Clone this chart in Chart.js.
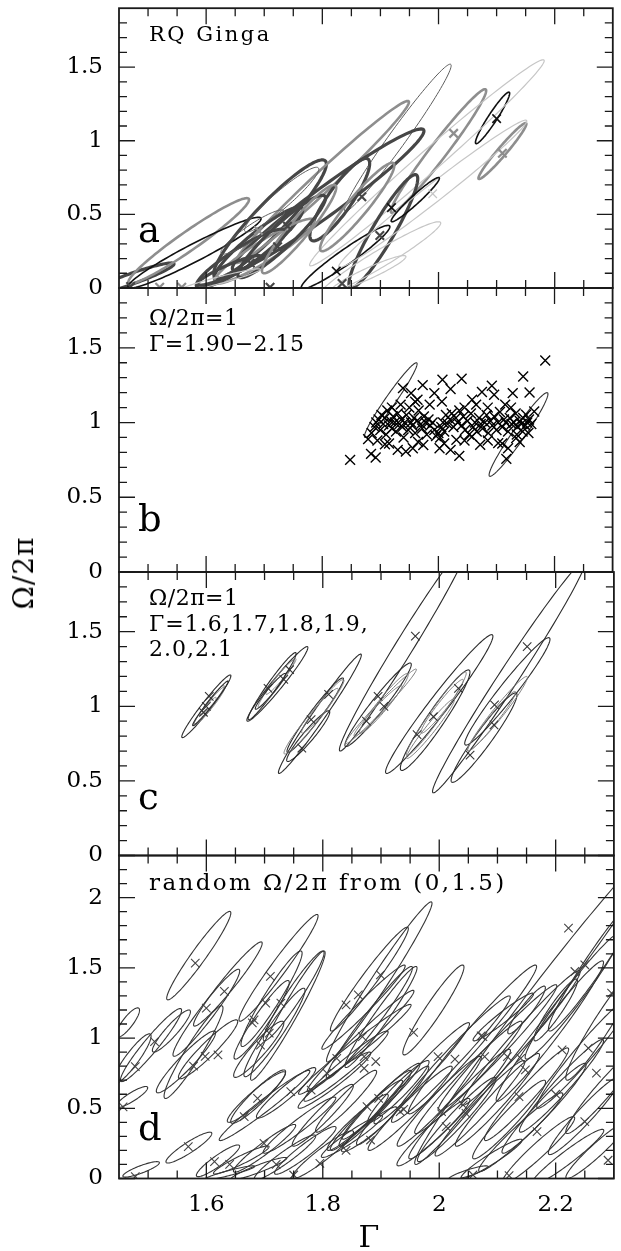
<!DOCTYPE html>
<html>
<head>
<meta charset="utf-8">
<script src="https://cdn.jsdelivr.net/npm/chart.js@4.4.0/dist/chart.umd.min.js"></script>
<style>
  body { margin: 0; background: #fff; width: 621px; height: 1251px; position: relative; overflow: hidden; }
  canvas { position: absolute; left: 0; top: 0; }
  .t { position: absolute; font-family: 'DejaVu Serif', serif; line-height: 1; white-space: nowrap; color: #000; z-index: 5; }
</style>
</head>
<body>
<canvas id="pa" width="621" height="1251"></canvas>
<canvas id="pb" width="621" height="1251"></canvas>
<canvas id="pc" width="621" height="1251"></canvas>
<canvas id="pd" width="621" height="1251"></canvas>

<div class="t" style="left:149px;top:24px;font-size:21px;letter-spacing:2.5px">RQ Ginga</div>
<div class="t" style="left:138px;top:211px;font-size:37px">a</div>
<div class="t" style="left:149px;top:307px;font-size:22px;letter-spacing:0.5px">Ω/2π=1</div>
<div class="t" style="left:149px;top:333px;font-size:22px;letter-spacing:0.5px">Γ=1.90−2.15</div>
<div class="t" style="left:138px;top:500px;font-size:37px">b</div>
<div class="t" style="left:149px;top:587px;font-size:22px;letter-spacing:0.5px">Ω/2π=1</div>
<div class="t" style="left:149px;top:613px;font-size:22px;letter-spacing:1px">Γ=1.6,1.7,1.8,1.9,</div>
<div class="t" style="left:149px;top:638px;font-size:22px;letter-spacing:1px">2.0,2.1</div>
<div class="t" style="left:138px;top:778px;font-size:37px">c</div>
<div class="t" style="left:149px;top:871px;font-size:23px;letter-spacing:2.4px">random Ω/2π from (0,1.5)</div>
<div class="t" style="left:138px;top:1109px;font-size:37px">d</div>
<div class="t" style="left:24px;top:573px;font-size:28px;letter-spacing:1px;transform:translate(-50%,-50%) rotate(-90deg)">Ω/2π</div>
<div class="t" style="left:369px;top:1237px;font-size:30px;transform:translate(-50%,-50%)">Γ</div>

<script>
// axes
const xMajor = [1.6, 1.8, 2.0, 2.2];
const xMinor = [1.5, 1.55, 1.65, 1.7, 1.75, 1.85, 1.9, 1.95, 2.05, 2.1, 2.15, 2.25];
const yMajor = [0, 0.5, 1, 1.5];
const yMinor = [0.1, 0.2, 0.3, 0.4, 0.6, 0.7, 0.8, 0.9, 1.1, 1.2, 1.3, 1.4, 1.6, 1.7, 1.8];
const yMajorD = [0, 0.5, 1, 1.5, 2];
const yMinorD = [0.1, 0.2, 0.3, 0.4, 0.6, 0.7, 0.8, 0.9, 1.1, 1.2, 1.3, 1.4, 1.6, 1.7, 1.8, 1.9, 2.1, 2.2];

// contours: [centre Γ, centre Ω, tip offset Γ, tip offset Ω, half width in Γ]
// panel a (RQ Ginga), one source group per contour
const aEllipses = [
  [1.47, 0.06, 0.07, 0.11, 0.026], [1.57, 0.32, 0.10, 0.29, 0.028], [1.58, 0.24, 0.11, 0.24, 0.032],
  [1.71, 0.47, 0.09, 0.40, 0.036], [1.80, 0.72, 0.147, 0.55, 0.025], [1.93, 1.02, 0.09, 0.5, 0.018],
  [2.0, 0.93, 0.08, 0.42, 0.018], [2.093, 1.155, 0.028, 0.175, 0.009], [2.11, 0.93, 0.04, 0.19, 0.01],
  [1.98, 0.85, 0.2, 0.7, 0.028], [1.81, 0.6, 0.16, 0.48, 0.04], [1.83, 0.6, 0.045, 0.28, 0.025],
  [1.84, 0.21, 0.073, 0.215, 0.022], [1.905, 0.385, 0.055, 0.385, 0.022], [1.99, 0.64, 0.16, 0.5, 0.025],
  [1.69, 0.3, 0.07, 0.25, 0.03], [1.70, 0.25, 0.08, 0.22, 0.032], [1.66, 0.2, 0.07, 0.2, 0.032],
  [1.73, 0.35, 0.07, 0.28, 0.028], [1.64, 0.12, 0.05, 0.1, 0.022], [1.76, 0.4, 0.06, 0.3, 0.022],
  [1.68, 0.38, 0.05, 0.15, 0.022], [1.73, 0.6, 0.06, 0.22, 0.022], [1.62, 0.05, 0.07, 0.08, 0.022],
  [1.9, 0.2, 0.1, 0.25, 0.028], [1.86, 0.55, 0.06, 0.3, 0.022], [1.96, 0.6, 0.04, 0.15, 0.011],
  [1.88, 0.1, 0.06, 0.12, 0.022]
];
const aEllipseGroup = [1, 2, 0, 1, 2, 4, 2, 0, 2, 3, 1, 1, 0, 1, 3, 1, 2, 1, 1, 1, 2, 4, 4, 3, 3, 2, 0, 3];
const aCrosses = [
  [1.47, 0.01], [1.52, 0.005], [1.558, 0.005], [1.71, 0.005], [1.834, 0.03], [1.824, 0.115],
  [1.69, 0.39], [1.723, 0.28], [1.74, 0.42], [1.868, 0.62], [1.899, 0.356], [2.026, 1.05],
  [2.10, 1.15], [2.11, 0.915], [1.99, 0.64], [1.919, 0.546], [1.676, 0.17]
];
const aCrossGroup = [1, 2, 2, 1, 1, 0, 2, 1, 1, 1, 1, 2, 0, 2, 3, 0, 1];

// panel b
const bEllipses = [[1.918, 1.15, 0.044, 0.25, 0.011], [2.138, 0.92, 0.049, 0.28, 0.013]];
const bCrosses = [
  [1.848, 0.75], [1.884, 0.79], [1.892, 0.766], [1.879, 0.889], [1.908, 0.855], [1.930, 0.817], [1.944, 0.806],
  [1.956, 0.828], [1.974, 0.85], [2.002, 0.828], [2.021, 0.817], [2.036, 0.777], [2.031, 0.884], [1.973, 1.25],
  [2.007, 1.286], [2.021, 1.224], [2.04, 1.293], [1.939, 1.23], [1.953, 1.197], [1.964, 1.152], [1.993, 1.197],
  [2.006, 1.14], [2.058, 1.152], [2.075, 1.204], [2.092, 1.246], [2.096, 1.186], [2.128, 1.197], [2.146, 1.308],
  [2.157, 1.201], [2.184, 1.415], [2.165, 1.074], [2.151, 1.052], [2.134, 0.896], [2.12, 0.828], [2.117, 0.757],
  [2.103, 0.862], [2.072, 0.851], [2.058, 0.906],
  [1.885, 0.93], [1.89, 0.97], [1.893, 1.0], [1.897, 1.02], [1.9, 0.95], [1.902, 1.05], [1.905, 0.99], [1.908, 1.03],
  [1.91, 0.92], [1.912, 1.08], [1.915, 0.98], [1.918, 1.01], [1.92, 0.96], [1.922, 1.04], [1.925, 1.0], [1.927, 0.94],
  [1.93, 1.06], [1.933, 0.99], [1.936, 1.02], [1.938, 0.97],
  [1.942, 1.0], [1.945, 1.05], [1.948, 0.95], [1.95, 1.1], [1.953, 1.0], [1.955, 0.98], [1.958, 1.03], [1.96, 0.93],
  [1.963, 1.01], [1.966, 1.08], [1.97, 0.99], [1.972, 0.96], [1.975, 1.04], [1.978, 1.0], [1.98, 0.92], [1.983, 1.02],
  [1.986, 0.98], [1.99, 1.0], [1.993, 0.95], [1.996, 0.91],
  [2.0, 0.93], [2.003, 0.9], [2.005, 0.97], [2.008, 1.0], [2.01, 0.94], [2.013, 1.05], [2.016, 0.99], [2.02, 1.02],
  [2.023, 1.06], [2.026, 0.97], [2.03, 1.03], [2.033, 1.0], [2.036, 1.08], [2.04, 0.98], [2.043, 1.04], [2.046, 0.95],
  [2.05, 1.01], [2.053, 0.92], [2.056, 1.06], [2.06, 0.97],
  [2.063, 1.0], [2.066, 0.94], [2.07, 1.03], [2.073, 0.99], [2.076, 0.96], [2.08, 1.0], [2.083, 1.05], [2.086, 0.93],
  [2.09, 1.01], [2.093, 0.98], [2.096, 1.04], [2.1, 0.95], [2.103, 1.0], [2.106, 1.07], [2.11, 0.97], [2.113, 1.02],
  [2.116, 1.0], [2.12, 0.94], [2.123, 1.03], [2.126, 0.99],
  [2.13, 1.0], [2.133, 1.06], [2.136, 0.97], [2.14, 1.01], [2.143, 0.99], [2.146, 1.03], [2.15, 0.98], [2.153, 1.0],
  [2.156, 1.02], [2.16, 0.99], [2.145, 0.94], [2.135, 0.92], [2.125, 1.1], [2.115, 1.12], [2.085, 1.1], [2.065, 1.12],
  [2.045, 1.1], [1.985, 1.12], [1.96, 1.14], [1.935, 1.12], [1.92, 1.1],
  [1.895, 0.88], [1.915, 0.86], [1.94, 0.9], [1.965, 0.87], [2.01, 0.86], [2.045, 0.88], [2.085, 0.88], [2.11, 0.86],
  [2.14, 0.87], [2.155, 0.93]
];

// panel c (simulated, Γ = 1.6 ... 2.1)
const cEllipses = [
  [1.60, 1.0, 0.041, 0.21, 0.01], [1.605, 1.0, 0.026, 0.13, 0.007], [1.61, 1.04, 0.02, 0.1, 0.006],
  [1.598, 0.97, 0.018, 0.09, 0.006], [1.607, 1.02, 0.03, 0.15, 0.006],
  [1.722, 1.15, 0.051, 0.25, 0.012], [1.713, 1.135, 0.04, 0.225, 0.01], [1.72, 1.15, 0.03, 0.16, 0.008],
  [1.728, 1.2, 0.025, 0.12, 0.007], [1.71, 1.1, 0.025, 0.12, 0.007],
  [1.795, 0.95, 0.07, 0.4, 0.013], [1.787, 0.94, 0.047, 0.25, 0.012], [1.775, 0.8, 0.035, 0.17, 0.012],
  [1.80, 1.0, 0.035, 0.18, 0.01], [1.78, 0.9, 0.045, 0.22, 0.012],
  [1.94, 1.4, 0.11, 0.7, 0.018], [1.895, 1.01, 0.055, 0.28, 0.015], [1.905, 1.02, 0.04, 0.2, 0.012],
  [1.90, 1.0, 0.06, 0.25, 0.01], [1.895, 0.97, 0.04, 0.17, 0.01],
  [2.0, 1.015, 0.09, 0.465, 0.02], [1.993, 0.907, 0.057, 0.337, 0.018], [1.995, 0.95, 0.05, 0.28, 0.012],
  [1.985, 0.85, 0.04, 0.2, 0.01], [2.005, 1.0, 0.035, 0.18, 0.01],
  [2.12, 1.2, 0.13, 0.78, 0.02], [2.117, 1.1, 0.071, 0.36, 0.018], [2.077, 0.79, 0.054, 0.3, 0.017],
  [2.1, 0.95, 0.05, 0.25, 0.012], [2.09, 0.9, 0.04, 0.2, 0.01]
];
const cEllipseShade = [0, 1, 1, 1, 0, 0, 0, 1, 1, 0, 0, 0, 0, 1, 1, 0, 0, 1, 1, 1, 0, 0, 1, 1, 1, 0, 0, 0, 1, 1];
const cCrosses = [
  [1.605, 1.066], [1.60, 1.0], [1.595, 0.96], [1.706, 1.12], [1.733, 1.18], [1.743, 1.245], [1.78, 0.91],
  [1.764, 0.72], [1.81, 1.08], [1.959, 1.47], [1.895, 1.066], [1.905, 1.0], [1.875, 0.90], [2.033, 1.12],
  [1.99, 0.93], [1.962, 0.81], [2.151, 1.40], [2.095, 1.01], [2.094, 0.875], [2.053, 0.673]
];

// panel d (random Ω/2π)
const dEllipses = [
  [1.587, 1.587, 0.053, 0.315, 0.015], [1.637, 1.385, 0.057, 0.30, 0.015], [1.600, 1.18, 0.055, 0.31, 0.016],
  [1.578, 0.90, 0.048, 0.33, 0.016], [1.603, 0.92, 0.048, 0.21, 0.017], [1.565, 0.83, 0.048, 0.22, 0.017],
  [1.465, 1.11, 0.017, 0.105, 0.011], [1.505, 0.95, 0.05, 0.26, 0.016], [1.472, 0.58, 0.024, 0.075, 0.013],
  [1.472, 0.85, 0.03, 0.18, 0.014], [1.54, 1.05, 0.03, 0.15, 0.013],
  [1.724, 1.50, 0.066, 0.38, 0.016], [1.74, 1.16, 0.062, 0.46, 0.016], [1.712, 1.28, 0.05, 0.34, 0.016],
  [1.717, 1.04, 0.05, 0.315, 0.016], [1.695, 1.13, 0.045, 0.28, 0.015], [1.75, 1.30, 0.05, 0.32, 0.015],
  [1.69, 0.92, 0.04, 0.2, 0.016],
  [1.897, 1.40, 0.089, 0.57, 0.017], [1.88, 1.42, 0.065, 0.37, 0.016], [1.88, 1.11, 0.072, 0.40, 0.017],
  [1.865, 0.98, 0.09, 0.36, 0.017], [1.855, 0.92, 0.095, 0.32, 0.018], [1.84, 0.80, 0.07, 0.25, 0.018],
  [1.87, 1.22, 0.07, 0.30, 0.015], [1.90, 1.15, 0.06, 0.36, 0.015], [1.99, 1.2, 0.05, 0.32, 0.016],
  [1.82, 0.7, 0.06, 0.2, 0.017],
  [1.689, 0.583, 0.044, 0.19, 0.017], [1.70, 0.52, 0.076, 0.25, 0.017], [1.737, 0.61, 0.048, 0.18, 0.017],
  [1.686, 0.58, 0.047, 0.18, 0.017], [1.57, 0.22, 0.036, 0.11, 0.016], [1.488, 0.065, 0.027, 0.055, 0.016],
  [1.62, 0.126, 0.034, 0.113, 0.015], [1.66, 0.132, 0.045, 0.1, 0.016], [1.70, 0.215, 0.051, 0.17, 0.016],
  [1.735, 0.15, 0.05, 0.16, 0.017], [1.69, 0.07, 0.045, 0.08, 0.017], [1.77, 0.2, 0.05, 0.17, 0.017],
  [1.80, 0.17, 0.05, 0.17, 0.017], [1.76, 0.38, 0.06, 0.2, 0.017], [1.64, 0.04, 0.04, 0.05, 0.016],
  [1.80, 0.45, 0.05, 0.22, 0.016],
  [1.89, 0.5, 0.06, 0.27, 0.016], [1.875, 0.45, 0.06, 0.25, 0.016], [1.90, 0.55, 0.065, 0.27, 0.016],
  [1.86, 0.40, 0.05, 0.2, 0.016], [1.92, 0.52, 0.06, 0.28, 0.016], [1.88, 0.35, 0.045, 0.16, 0.016],
  [1.93, 0.62, 0.05, 0.22, 0.016], [1.85, 0.30, 0.05, 0.15, 0.016], [1.95, 0.50, 0.07, 0.3, 0.018],
  [1.84, 0.55, 0.05, 0.22, 0.016],
  [2.17, 1.25, 0.21, 1.15, 0.03], [2.057, 0.99, 0.108, 0.53, 0.022], [2.02, 0.85, 0.1, 0.45, 0.02],
  [2.05, 0.72, 0.09, 0.4, 0.02], [2.10, 0.93, 0.1, 0.45, 0.02], [2.14, 1.0, 0.1, 0.48, 0.02],
  [2.19, 1.05, 0.09, 0.5, 0.02], [2.23, 1.30, 0.08, 0.45, 0.02], [2.27, 1.55, 0.08, 0.5, 0.02],
  [2.28, 1.1, 0.06, 0.4, 0.018], [2.25, 0.9, 0.08, 0.4, 0.02], [2.0, 0.55, 0.07, 0.32, 0.018],
  [2.03, 0.42, 0.065, 0.3, 0.018], [2.07, 0.5, 0.075, 0.34, 0.018], [2.1, 0.56, 0.07, 0.33, 0.018],
  [2.12, 0.42, 0.06, 0.28, 0.018], [2.15, 0.6, 0.07, 0.33, 0.018], [2.18, 0.5, 0.07, 0.32, 0.018],
  [2.21, 0.66, 0.07, 0.33, 0.018], [2.25, 0.45, 0.06, 0.28, 0.018], [2.28, 0.62, 0.06, 0.3, 0.018],
  [2.09, 0.14, 0.05, 0.14, 0.016], [2.05, 0.04, 0.03, 0.05, 0.016], [2.17, 0.2, 0.06, 0.24, 0.018],
  [2.22, 0.15, 0.06, 0.2, 0.018], [2.27, 0.2, 0.05, 0.2, 0.016], [2.14, 0.33, 0.07, 0.28, 0.018],
  [1.99, 0.33, 0.06, 0.24, 0.018], [1.97, 0.75, 0.08, 0.36, 0.018], [2.11, 1.15, 0.05, 0.17, 0.014],
  [2.15, 1.2, 0.03, 0.17, 0.012], [2.2, 1.2, 0.035, 0.22, 0.013], [2.035, 0.53, 0.085, 0.39, 0.02]
];
const dCrosses = [
  [1.581, 1.533], [1.631, 1.332], [1.60, 1.213], [1.511, 0.975], [1.478, 0.797], [1.457, 0.51], [1.598, 0.87],
  [1.578, 0.80], [1.62, 0.88], [1.71, 1.439], [1.728, 1.249], [1.702, 1.249], [1.682, 1.13], [1.708, 1.035],
  [1.679, 1.108], [1.693, 0.95], [1.861, 1.308], [1.84, 1.237], [1.899, 1.45], [1.868, 1.01], [1.956, 1.04],
  [1.871, 0.868], [1.891, 0.833], [1.871, 0.785], [1.824, 0.856], [1.807, 0.75], [1.78, 0.63], [1.998, 0.868],
  [2.027, 0.85], [2.075, 1.01], [2.078, 0.868], [2.117, 0.868], [2.14, 0.856], [2.148, 0.773], [2.137, 0.583],
  [2.256, 0.928], [2.211, 0.916], [1.939, 0.493], [1.933, 0.476], [1.896, 0.571], [1.876, 0.512], [2.004, 0.476],
  [2.012, 0.369], [2.046, 0.464], [2.041, 0.524], [2.168, 0.334], [2.25, 0.405], [2.058, 0.025], [2.12, 0.02],
  [1.882, 0.274], [1.688, 0.571], [1.665, 0.441], [1.745, 0.619], [1.699, 0.25], [1.75, 0.025], [1.795, 0.108],
  [1.569, 0.227], [1.478, 0.013], [1.614, 0.12], [2.222, 1.783], [2.233, 1.474], [2.25, 1.522], [2.296, 1.32],
  [2.072, 1.016], [1.64, 0.1], [1.72, 0.1], [1.84, 0.2], [2.29, 0.13], [2.2, 0.6], [2.27, 0.75]
];

// looks
const groupStyle = [
  { color: '#111', width: 1.6 },
  { color: '#464646', width: 3.2 },
  { color: '#8e8e8e', width: 2.6 },
  { color: '#c6c6c6', width: 1.2 },
  { color: '#5c5c5c', width: 1 }
];
const shadeStyle = [{ color: '#2c2c2c', width: 1.1 }, { color: '#7a7a7a', width: 1 }];
const tickFont = { family: "'DejaVu Serif', serif", size: 23 };
const H = 1251;

function fmt(v) { return String(+v.toFixed(2)); }

function framePlugin(spec) {
  return {
    id: 'frame' + spec.name,
    beforeDatasetsDraw(chart) {
      const { ctx, chartArea: a, scales: { x, y } } = chart;
      ctx.save();
      ctx.beginPath();
      ctx.rect(a.left, a.top, a.right - a.left, a.bottom - a.top);
      ctx.clip();
      spec.ellipses.forEach((e, i) => {
        const [cx, cy, dx, dy, h] = e;
        const st = spec.styleOf(i);
        ctx.beginPath();
        for (let k = 0; k <= 120; k++) {
          const t = k / 120 * Math.PI * 2;
          const px = x.getPixelForValue(cx + dx * Math.cos(t) + h * Math.sin(t));
          const py = y.getPixelForValue(cy + dy * Math.cos(t));
          if (k === 0) ctx.moveTo(px, py); else ctx.lineTo(px, py);
        }
        ctx.closePath();
        ctx.strokeStyle = st.color;
        ctx.lineWidth = st.width;
        ctx.lineJoin = 'round';
        ctx.stroke();
      });
      ctx.restore();
    },
    afterDraw(chart) {
      const { ctx, chartArea: a, scales: { x, y } } = chart;
      ctx.save();
      ctx.strokeStyle = '#1a1a1a';
      ctx.lineWidth = 1.3;
      ctx.beginPath();
      const xt = (vals, len) => vals.forEach(v => {
        const px = x.getPixelForValue(v);
        ctx.moveTo(px, a.bottom); ctx.lineTo(px, a.bottom - len);
        ctx.moveTo(px, a.top); ctx.lineTo(px, a.top + len);
      });
      const yt = (vals, len) => vals.forEach(v => {
        const py = y.getPixelForValue(v);
        ctx.moveTo(a.left, py); ctx.lineTo(a.left + len, py);
        ctx.moveTo(a.right, py); ctx.lineTo(a.right - len, py);
      });
      xt(xMajor, 16); xt(xMinor, 8);
      yt(spec.yMajor, 16); yt(spec.yMinor, 8);
      ctx.stroke();
      ctx.lineWidth = 1.8;
      ctx.strokeRect(a.left, a.top, a.right - a.left, a.bottom - a.top);
      ctx.restore();
    }
  };
}

function crossSet(points, color, width, radius) {
  return {
    data: points.map(p => ({ x: p[0], y: p[1] })),
    pointStyle: 'crossRot', pointRadius: radius, pointHoverRadius: radius,
    borderColor: color, borderWidth: width, showLine: false
  };
}

function panel(id, top, bottom, yMax, yMaj, yMin, withX, datasets, ellipses, styleOf) {
  return new Chart(document.getElementById(id), {
    type: 'scatter',
    data: { datasets: datasets },
    options: {
      responsive: false, animation: false, devicePixelRatio: 1,
      layout: { padding: { top: top, bottom: withX ? 0 : H - bottom, left: 0, right: 1 } },
      plugins: { legend: { display: false }, tooltip: { enabled: false } },
      scales: {
        x: {
          type: 'linear', min: 1.45, max: 2.3, display: withX,
          grid: { display: false, drawTicks: false }, border: { display: false },
          afterBuildTicks: s => { s.ticks = xMajor.map(v => ({ value: v })); },
          afterFit: s => {
            if (withX) s.height = H - bottom;
            s.paddingLeft = 0; s.paddingRight = 0;
          },
          ticks: { padding: 13, color: '#000', font: tickFont, maxRotation: 0, autoSkip: false, callback: v => fmt(v) }
        },
        y: {
          type: 'linear', min: 0, max: yMax,
          grid: { display: false, drawTicks: false }, border: { display: false },
          afterBuildTicks: s => { s.ticks = yMaj.map(v => ({ value: v })); },
          afterFit: s => { s.width = 119; s.paddingTop = 0; s.paddingBottom = 0; },
          ticks: { padding: 16, color: '#000', font: tickFont, autoSkip: false, callback: v => fmt(v) }
        }
      }
    },
    plugins: [framePlugin({ name: id, yMajor: yMaj, yMinor: yMin, ellipses: ellipses, styleOf: styleOf })]
  });
}

const aSets = groupStyle.map((st, g) =>
  crossSet(aCrosses.filter((p, i) => aCrossGroup[i] === g), st.color, Math.min(st.width, 2.2), 6));

panel('pa', 5, 288, 1.9, yMajor, yMinor, false, aSets, aEllipses, i => groupStyle[aEllipseGroup[i]]);
panel('pb', 288, 572, 1.9, yMajor, yMinor, false, [crossSet(bCrosses, '#000', 1.4, 7)],
  bEllipses, () => ({ color: '#333', width: 1.1 }));
panel('pc', 572, 855.5, 1.9, yMajor, yMinor, false, [crossSet(cCrosses, '#333', 1.1, 6)],
  cEllipses, i => shadeStyle[cEllipseShade[i]]);
panel('pd', 855.5, 1178.5, 2.3, yMajorD, yMinorD, true, [crossSet(dCrosses, '#444', 1.1, 6)],
  dEllipses, () => ({ color: '#363636', width: 1.1 }));
</script>
</body>
</html>
